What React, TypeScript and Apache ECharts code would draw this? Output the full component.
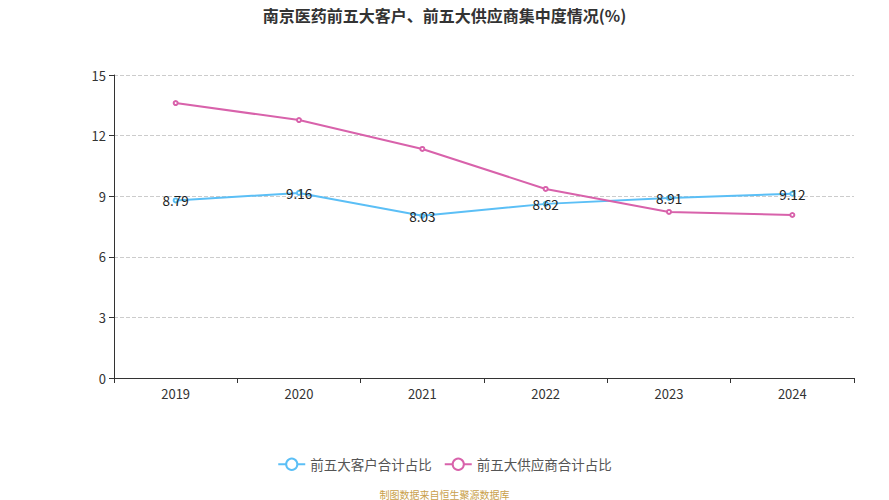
import { useEffect, useRef } from 'react';
import * as echarts from 'echarts';

const years = ['2019', '2020', '2021', '2022', '2023', '2024'];
const customerShare = [8.79, 9.16, 8.03, 8.62, 8.91, 9.12];
const supplierShare = [13.61, 12.77, 11.34, 9.36, 8.22, 8.07];

const FONT = '"Noto Sans CJK SC", "Noto Sans", sans-serif';

export default function App() {
  const chartRef = useRef<HTMLDivElement>(null);

  useEffect(() => {
    if (!chartRef.current) return;
    const chart = echarts.init(chartRef.current, undefined, { renderer: 'svg' });

    chart.setOption({
      animation: false,
      textStyle: { fontFamily: FONT },
      title: {
        text: '南京医药前五大客户、前五大供应商集中度情况(%)',
        left: 'center',
        top: 2,
        textStyle: { color: '#333', fontSize: 16, fontWeight: 'bold', fontFamily: FONT },
      },
      legend: {
        bottom: 24,
        left: 'center',
        itemWidth: 27,
        itemHeight: 14,
        itemGap: 12,
        textStyle: { color: '#555', fontSize: 13.5 },
        data: ['前五大客户合计占比', '前五大供应商合计占比'],
      },
      graphic: [
        {
          type: 'text',
          left: 'center',
          bottom: 1,
          style: { text: '制图数据来自恒生聚源数据库', fill: '#c9a04a', fontSize: 10, fontFamily: FONT },
        },
      ],
      grid: { left: 114, right: 35, top: 75, bottom: 122 },
      xAxis: {
        type: 'category',
        data: years,
        boundaryGap: true,
        axisLine: { lineStyle: { color: '#333' } },
        axisTick: { show: true, alignWithLabel: false, lineStyle: { color: '#333' } },
        axisLabel: { color: '#333', fontSize: 13, margin: 9 },
      },
      yAxis: {
        type: 'value',
        min: 0,
        max: 15,
        interval: 3,
        axisLine: { show: true, lineStyle: { color: '#333' } },
        axisTick: { show: true, lineStyle: { color: '#333' } },
        axisLabel: { color: '#333', fontSize: 13 },
        splitLine: { lineStyle: { color: '#ccc', type: 'dashed' } },
      },
      series: [
        {
          name: '前五大客户合计占比',
          type: 'line',
          data: customerShare,
          color: '#5bbff6',
          symbol: 'emptyCircle',
          symbolSize: 4,
          lineStyle: { width: 2 },
          label: { show: true, position: 'inside', color: '#222', fontSize: 13.5 },
        },
        {
          name: '前五大供应商合计占比',
          type: 'line',
          data: supplierShare,
          color: '#d862ab',
          symbol: 'emptyCircle',
          symbolSize: 4,
          lineStyle: { width: 2 },
        },
      ],
    });

    return () => {
      chart.dispose();
    };
  }, []);

  return (
    <div
      ref={chartRef}
      style={{ position: 'absolute', left: 0, top: 0, width: 889, height: 500 }}
    />
  );
}
